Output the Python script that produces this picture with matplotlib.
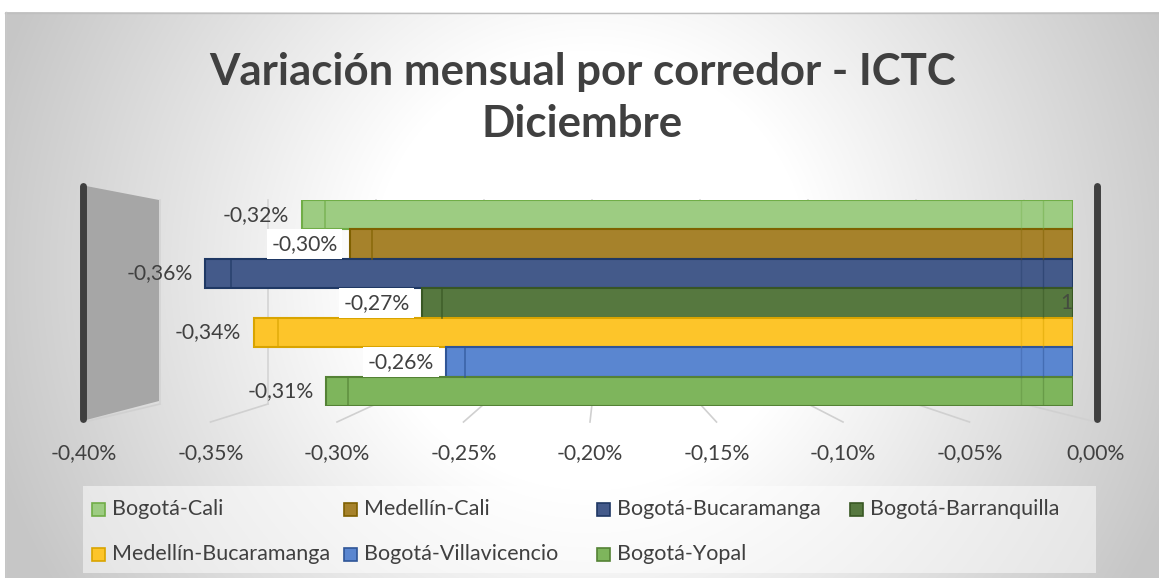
import numpy as np
import matplotlib
matplotlib.use("Agg")
import matplotlib.pyplot as plt
from matplotlib.patches import Rectangle, Polygon

# ---------------- data ----------------
series = ["Bogotá-Cali", "Medellín-Cali", "Bogotá-Bucaramanga", "Bogotá-Barranquilla",
          "Medellín-Bucaramanga", "Bogotá-Villavicencio", "Bogotá-Yopal"]
values = [-0.32, -0.30, -0.36, -0.27, -0.34, -0.26, -0.31]
labels = ["-0,32%", "-0,30%", "-0,36%", "-0,27%", "-0,34%", "-0,26%", "-0,31%"]
colors = ["#9DCC82", "#A6822B", "#445A8A", "#56783F", "#FDC52A", "#5A86D0", "#7EB55C"]
edges = ["#70AD47", "#7F6000", "#1F3864", "#385723", "#D9A400", "#2F5597", "#548235"]
ticks = [-0.40, -0.35, -0.30, -0.25, -0.20, -0.15, -0.10, -0.05, 0.00]
tick_labels = ["-0,40%", "-0,35%", "-0,30%", "-0,25%", "-0,20%", "-0,15%", "-0,10%", "-0,05%", "0,00%"]
title_lines = ["Variación mensual por corredor - ICTC", "Diciembre"]

FONT = "Lato"
TXT = "#404040"
W, H = 1159, 578

fig = plt.figure(figsize=(W / 100, H / 100), dpi=100)
fig.patch.set_facecolor("white")

def fx(px):
    return px / W

def fy(py):
    return 1 - py / H

# ---------------- background ----------------
X0, Y0 = 5, 12  # chart area top-left corner
bg = fig.add_axes([0, 0, 1, 1], zorder=0)
bg.set_xlim(0, W)
bg.set_ylim(H, 0)
bg.axis("off")
bg.add_patch(Rectangle((0, 0), W, H, facecolor="white", edgecolor="none", zorder=0))
yy, xx = np.mgrid[Y0:H, X0:W]
d = np.sqrt((xx - 590.0) ** 2 + (yy - 270.0) ** 2)
shade = 1.0 - 0.22 * np.clip((d - 220.0) / 400.0, 0, 1)
bg.imshow(np.dstack([shade] * 3), extent=(X0, W, H, Y0), aspect="auto", zorder=0.5)
bg.plot([X0, W], [Y0 + 0.5, Y0 + 0.5], color="#BFBFBF", lw=1, zorder=3)
bg.plot([X0 + 0.5, X0 + 0.5], [Y0, H], color="#C8C8C8", lw=1, zorder=3)

# walls (3D frame decoration)
bg.add_patch(Polygon([(86, 186), (159, 200), (159, 401), (86, 420)], closed=True,
                     facecolor="#A6A6A6", edgecolor="none", zorder=1))
bg.plot([83, 83], [186, 419], color="#3F3F3F", lw=5, solid_capstyle="round", zorder=2)
bg.plot([1097, 1097], [186, 419], color="#3F3F3F", lw=5, solid_capstyle="round", zorder=2)

# floor gridlines (front tick scale -> back wall scale)
front_l, front_r = 84, 1096
back_l, back_r = 160, 1024
for t in ticks:
    frac = (t - ticks[0]) / (ticks[-1] - ticks[0])
    xf = front_l + frac * (front_r - front_l)
    xb = back_l + frac * (back_r - back_l)
    bg.plot([xb, xf], [404, 422], color="#D0D0D0", lw=1.2, zorder=1)
    bg.plot([xb, xb], [200, 404], color="#D4D4D4", lw=1.2, zorder=1)

# legend background
bg.add_patch(Rectangle((83, 486), 1013, 87, facecolor="white", edgecolor="none",
                       alpha=0.5, zorder=1))

# ---------------- bars ----------------
bar_l, bar_r, bar_t, bar_b = 109, 1073, 200, 406
ax = fig.add_axes([fx(bar_l), fy(bar_b), fx(bar_r - bar_l), (bar_b - bar_t) / H], zorder=2)
ax.patch.set_alpha(0)
ax.set_xlim(-0.40, 0.0)
ax.set_ylim(len(series) - 0.5, -0.5)
ax.axis("off")
ypos = np.arange(len(series))
ax.barh(ypos, values, height=1.0, color=colors, edgecolor=edges, linewidth=1.5, zorder=3)
# 3D depth edges on each bar
for i, (v, ec) in enumerate(zip(values, edges)):
    ax.plot([v * 0.97, v * 0.97], [i - 0.5, i + 0.5], color=ec, lw=1.2, alpha=0.7, zorder=4)
    ax.plot([-0.0125, -0.0125], [i - 0.5, i + 0.5], color=ec, lw=1.0, alpha=0.5, zorder=4)
    ax.plot([-0.0215, -0.0215], [i - 0.5, i + 0.5], color=ec, lw=1.0, alpha=0.35, zorder=4)

for i, (v, lab) in enumerate(zip(values, labels)):
    nb = [values[j] for j in (i - 1, i + 1) if 0 <= j < len(values)]
    boxed = min(nb) < v
    kw = {}
    if boxed:
        kw["bbox"] = dict(boxstyle="square,pad=0.22", facecolor="white", edgecolor="none")
    ax.annotate(lab, (v, i), xytext=(-9, 0), textcoords="offset points",
                ha="right", va="center", fontsize=15.2, color=TXT, family=FONT,
                zorder=5, **kw)
ax.text(0.0, 3, "1", ha="right", va="center", fontsize=15.2, color=TXT, family=FONT,
        alpha=0.8, zorder=5)

# ---------------- tick labels (front floor scale) ----------------
tax = fig.add_axes([fx(front_l), fy(432), fx(front_r - front_l), 0.001], zorder=2)
tax.patch.set_alpha(0)
tax.set_xlim(ticks[0], ticks[-1])
tax.set_xticks(ticks)
tax.set_xticklabels(tick_labels, fontsize=15.2, color=TXT, family=FONT)
tax.tick_params(axis="x", length=0, pad=8)
tax.set_yticks([])
for s in tax.spines.values():
    s.set_visible(False)

# ---------------- title ----------------
for line, base in zip(title_lines, [85, 137]):
    fig.text(0.5 + fx(3), fy(base), line, ha="center", va="baseline", fontsize=31.5,
             fontweight="bold", color=TXT, family=FONT)

# ---------------- legend ----------------
col_x = [92, 344, 597, 850]
row_y = [509, 554]
for k, (name, c, ec) in enumerate(zip(series, colors, edges)):
    cx = col_x[k % 4]
    ry = row_y[k // 4]
    bg.add_patch(Rectangle((cx, ry - 6.5), 13, 13, facecolor=c, edgecolor=ec, lw=1.2, zorder=4))
    bg.text(cx + 20, ry, name, ha="left", va="center", fontsize=15.5, color=TXT,
            family=FONT, zorder=4)

fig.savefig("out.png", dpi=100)
